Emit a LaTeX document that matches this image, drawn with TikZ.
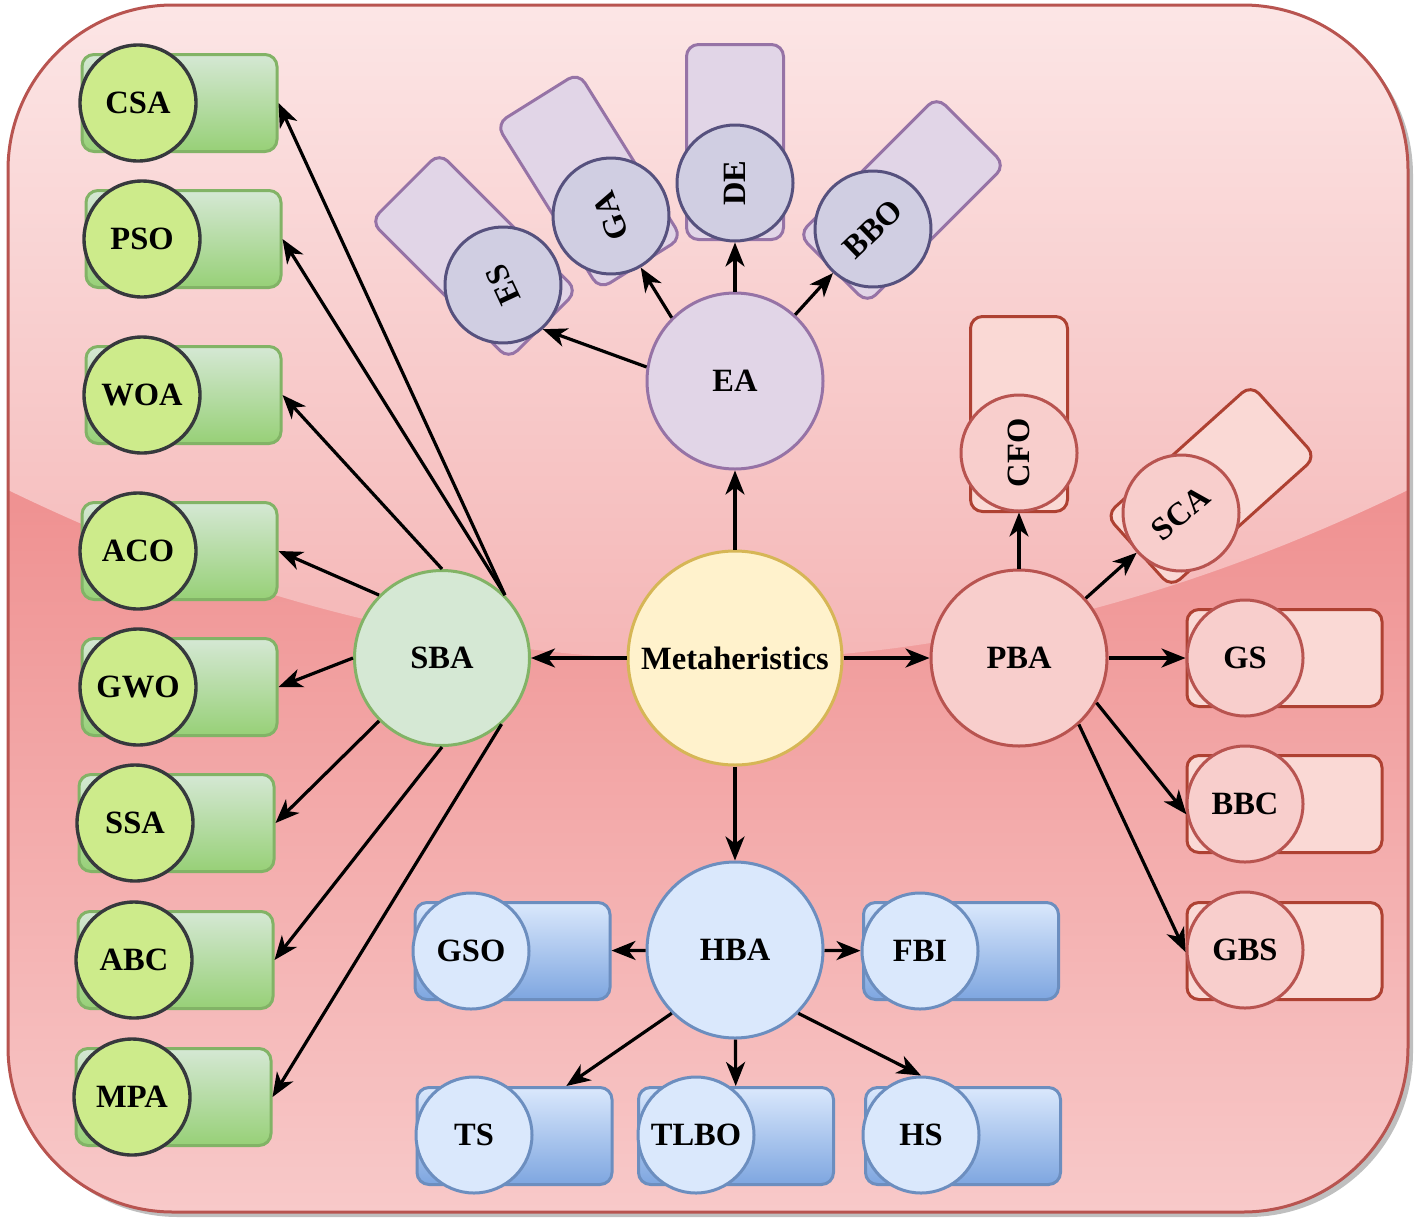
\documentclass[tikz,border=0pt]{standalone}
\usepackage{fontspec}
\setmainfont{Liberation Serif}
\usetikzlibrary{arrows.meta}
\definecolor{bgB}{HTML}{B85450}
\definecolor{upT}{HTML}{FCE6E6}
\definecolor{upB}{HTML}{F4B2B2}
\definecolor{lowT}{HTML}{EF9090}
\definecolor{lowB}{HTML}{F8CACA}
\definecolor{gcF}{HTML}{CDEB8B}
\definecolor{gcB}{HTML}{36393D}
\definecolor{grT}{HTML}{D5E8D4}
\definecolor{grBot}{HTML}{97D077}
\definecolor{grB}{HTML}{82B366}
\definecolor{bF}{HTML}{DAE8FC}
\definecolor{bBot}{HTML}{7EA6E0}
\definecolor{bB}{HTML}{6C8EBF}
\definecolor{pcF}{HTML}{D0CEE2}
\definecolor{pcB}{HTML}{56517E}
\definecolor{prF}{HTML}{E1D5E7}
\definecolor{prB}{HTML}{9673A6}
\definecolor{rcF}{HTML}{F8CECC}
\definecolor{rcB}{HTML}{B85450}
\definecolor{rrF}{HTML}{FAD9D5}
\definecolor{rrB}{HTML}{AE4132}
\definecolor{yF}{HTML}{FFF2CC}
\definecolor{yB}{HTML}{D6B656}
\definecolor{sF}{HTML}{D5E8D4}
\definecolor{sB}{HTML}{82B366}
\tikzset{
  lbl/.style={font=\bfseries\fontsize{32.5}{33}\selectfont, text=black},
  cnode/.style={circle, line width=3pt, inner sep=0pt, lbl},
  item/.style={cnode, minimum size=116pt},
  box/.style={rectangle, rounded corners=12pt, line width=3pt, minimum width=195pt, minimum height=97pt},
  gc/.style={item, draw=gcB, fill=gcF, line width=3.4pt},
  gr/.style={box, draw=grB, top color=grT, bottom color=grBot},
  bc/.style={item, draw=bB, fill=bF},
  br/.style={box, draw=bB, top color=bF, bottom color=bBot},
  pc/.style={item, draw=pcB, fill=pcF},
  pr/.style={box, draw=prB, fill=prF},
  rc/.style={item, draw=rcB, fill=rcF},
  rr/.style={box, draw=rrB, fill=rrF},
  arr/.style={line width=3.2pt, draw=black, -{Stealth[length=24pt,width=19pt,inset=7pt]}}
}
\begin{document}
\begin{tikzpicture}[x=1pt,y=-1pt]
\useasboundingbox (0,0) rectangle (1416,1224);
% background
\fill[black!25, rounded corners=165pt] (13,10) rectangle (1413,1217);
\begin{scope}
  \clip[rounded corners=165pt] (8,5) rectangle (1408,1212);
  \shade[top color=lowT, bottom color=lowB] (0,480) rectangle (1416,1224);
  \shade[top color=upT, bottom color=upB] (0,0) -- (1416,0) -- (1416,490) -- (1408,490)
     .. controls (941,717) and (475,717) .. (8,490) -- (0,490) -- cycle;
\end{scope}
\draw[bgB, line width=3pt, rounded corners=165pt] (8,5) rectangle (1408,1212);

% main nodes
\node[cnode, minimum size=214pt, draw=yB, fill=yF] (meta) at (735,658) {Metaheristics};
\node[cnode, minimum size=175pt, draw=sB, fill=sF] (sba) at (442,658) {SBA};
\node[cnode, minimum size=176pt, draw=rcB, fill=rcF] (pba) at (1019,658) {PBA};
\node[cnode, minimum size=176pt, draw=prB, fill=prF] (ea) at (735,381) {EA};
\node[cnode, minimum size=176pt, draw=bB, fill=bF] (hba) at (735,950) {HBA};

% green items
\node[gr] (csar) at (179.5,103) {};  \node[gc] (csa) at (138,103) {CSA};
\node[gr] (psor) at (183.5,239) {};  \node[gc] (pso) at (142,239) {PSO};
\node[gr] (woar) at (183.5,395) {};  \node[gc] (woa) at (142,395) {WOA};
\node[gr] (acor) at (179.5,551) {};  \node[gc] (aco) at (138,551) {ACO};
\node[gr] (gwor) at (179.5,687) {};  \node[gc] (gwo) at (138,687) {GWO};
\node[gr] (ssar) at (176.5,823) {};  \node[gc] (ssa) at (135,823) {SSA};
\node[gr] (abcr) at (175.5,960) {};  \node[gc] (abc) at (134,960) {ABC};
\node[gr] (mpar) at (173.5,1097) {}; \node[gc] (mpa) at (132,1097) {MPA};

% purple items
\node[pr, rotate=135] (esr) at (474,256) {};
\node[pc, rotate=115] (es) at (503,285) {ES};
\node[pr, rotate=122] (gar) at (589,181) {};
\node[pc, rotate=110] (ga) at (611,216) {GA};
\node[pr, rotate=90] (der) at (735,142) {};
\node[pc, rotate=90] (de) at (735,183) {DE};
\node[pr, rotate=45] (bbor) at (902,200) {};
\node[pc, rotate=44] (bbo) at (873,229) {BBO};

% red items
\node[rr, rotate=90] (cfor) at (1019,414) {};
\node[rc, rotate=90] (cfo) at (1019,453) {CFO};
\node[rr, rotate=42] (scar) at (1211,486) {};
\node[rc, rotate=40] (sca) at (1181,513) {SCA};
\node[rr] (gsr) at (1284.5,658) {};  \node[rc] (gs) at (1245,658) {GS};
\node[rr] (bbcr) at (1284.5,804) {}; \node[rc] (bbc) at (1245,804) {BBC};
\node[rr] (gbsr) at (1284.5,951) {}; \node[rc] (gbs) at (1245,950) {GBS};

% blue items
\node[br] (gsor) at (512.5,951) {};  \node[bc] (gso) at (471,951) {GSO};
\node[br] (fbir) at (961,951) {};    \node[bc] (fbi) at (920,951) {FBI};
\node[br] (tsr) at (514.5,1136) {};  \node[bc] (ts) at (474,1135) {TS};
\node[br] (tlbor) at (736,1136) {};  \node[bc] (tlbo) at (696,1135) {TLBO};
\node[br] (hsr) at (963,1136) {};    \node[bc] (hs) at (921,1135) {HS};

% connectors
\draw[arr] (meta) -- (sba);
\draw[arr] (meta) -- (pba);
\draw[arr] (meta) -- (ea);
\draw[arr] (meta) -- (hba);

\draw[arr] (sba.45) -- (csar.east);
\draw[arr] (sba.45) -- (psor.east);
\draw[arr] (sba.90) -- (woar.east);
\draw[arr] (sba.135) -- (acor.east);
\draw[arr] (sba.180) -- (gwor.east);
\draw[arr] (sba.225) -- (ssar.east);
\draw[arr] (sba.270) -- (abcr.east);
\draw[arr] (sba.312) -- (mpar.east);

\draw[arr] (ea.171) -- (es.197);
\draw[arr] (ea.135) -- (ga.190);
\draw[arr] (ea) -- (de);
\draw[arr] (ea) -- (bbo);

\draw[arr] (pba) -- (cfo);
\draw[arr] (pba) -- (sca);
\draw[arr] (pba) -- (gs);
\draw[arr] (pba.-30) -- (bbc.190);
\draw[arr] (pba.-48) -- (gbs.182);

\draw[arr] (hba) -- (gsor);
\draw[arr] (hba) -- (fbi);
\draw[arr] (hba.225) -- (tsr.44);
\draw[arr] (hba) -- (tlbor);
\draw[arr] (hba.-45) -- (hs.north);
\end{tikzpicture}
\end{document}
